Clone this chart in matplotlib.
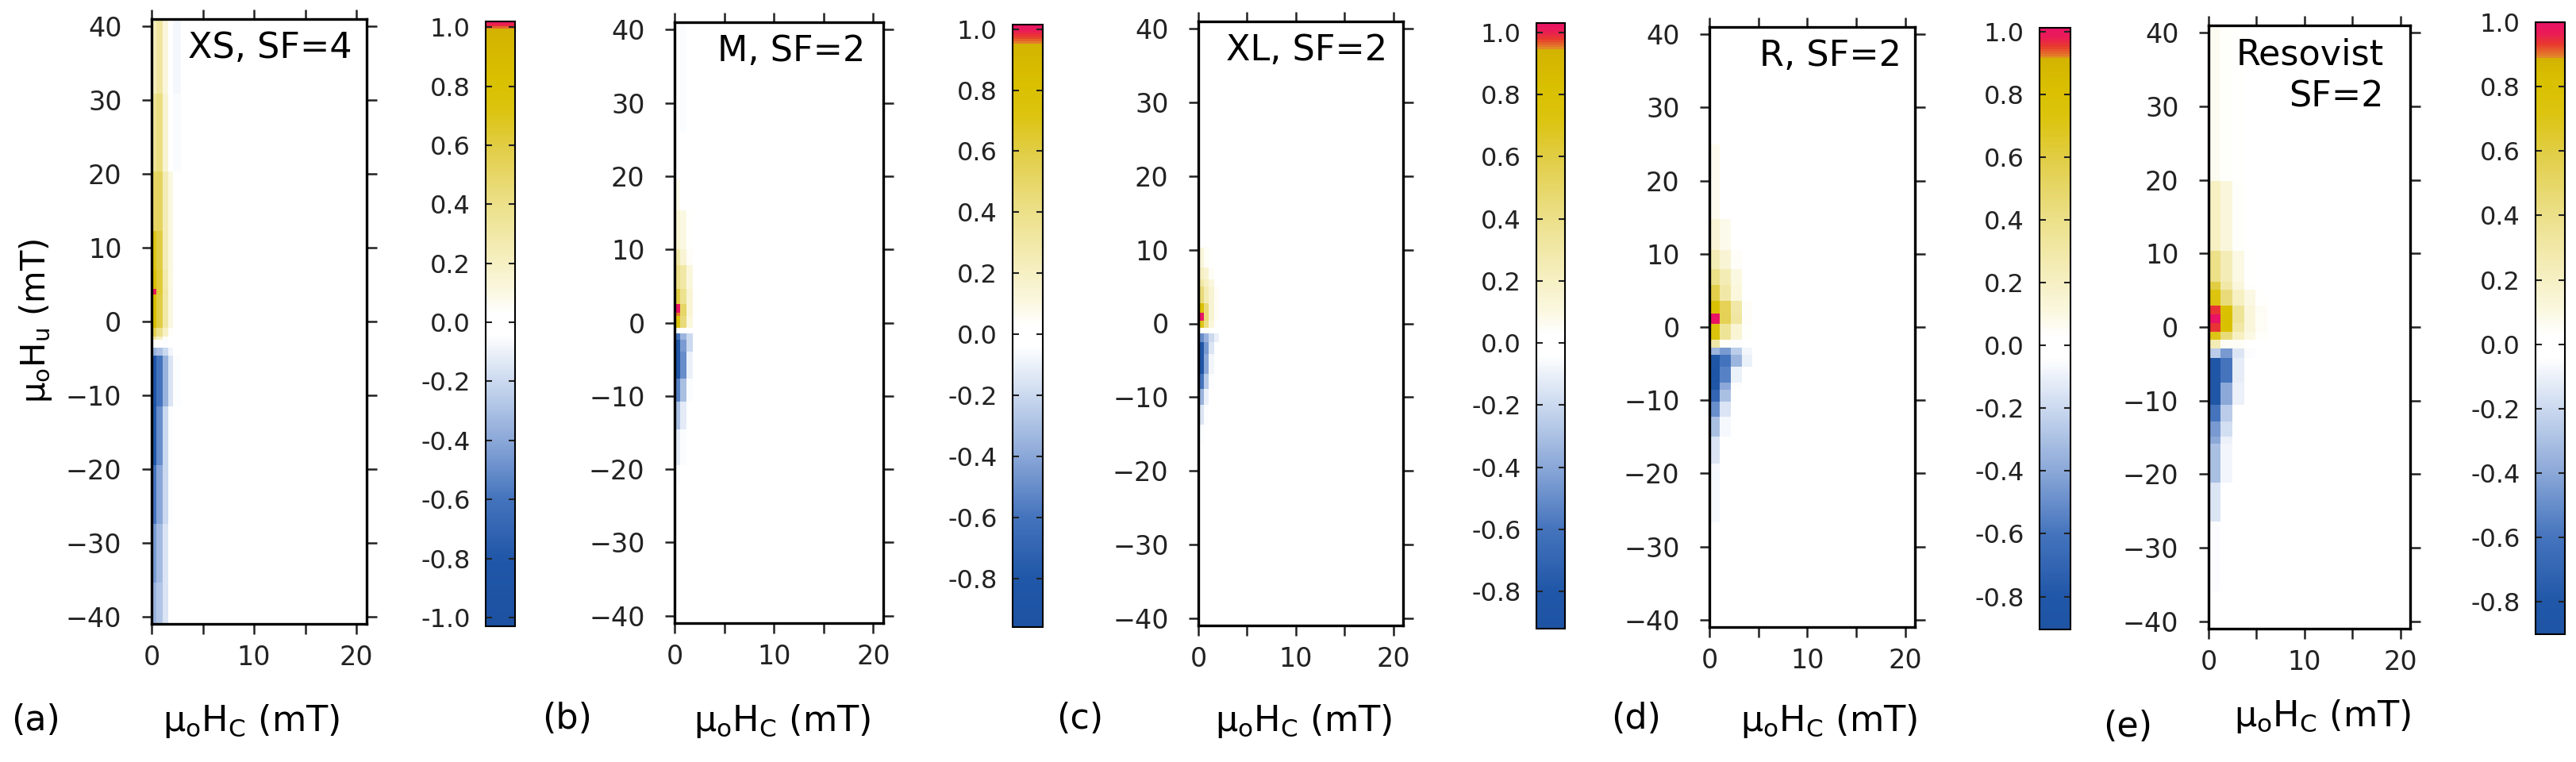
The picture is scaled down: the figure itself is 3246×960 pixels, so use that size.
import numpy as np
import matplotlib
matplotlib.use('Agg')
import matplotlib.pyplot as plt
from matplotlib.colors import ListedColormap, Normalize, to_rgb
from matplotlib.ticker import FuncFormatter

plt.rcParams['font.family'] = ['DejaVu Sans']
plt.rcParams['mathtext.default'] = 'regular'

# ---- data ----
# each panel: Hc cell edges, Hu cell edges (top -> bottom), cell values (rows top -> bottom)
names = ['XS, SF=4', 'M, SF=2', 'XL, SF=2', 'R, SF=2', 'Resovist\nSF=2']
letters = ['(a)', '(b)', '(c)', '(d)', '(e)']

hc_a = [0, 0.45, 1.1, 1.6, 2.1, 2.9, 6.0, 21.0]
hu_a = [41, 30.9, 20.3, 12.3, 7.0, 4.4, 3.7, -0.9, -2.0, -2.5, -3.6, -4.6, -11.5, -19.5, -27.4, -35.4, -41]
val_a = [
    [0.22, 0.32, 0.12, 0.0, -0.07, -0.04, -0.01],
    [0.35, 0.42, 0.15, 0.0, -0.06, -0.03, 0.0],
    [0.5, 0.52, 0.25, 0.1, 0.03, 0.0, 0.0],
    [0.7, 0.6, 0.25, 0.1, 0.03, 0.01, -0.01],
    [0.8, 0.62, 0.28, 0.1, 0.03, 0.0, -0.01],
    [1.02, 0.62, 0.3, 0.1, 0.03, 0.0, -0.01],
    [0.82, 0.6, 0.3, 0.1, 0.02, 0.0, -0.02],
    [0.55, 0.4, 0.2, 0.05, 0.0, -0.02, -0.03],
    [0.3, 0.2, 0.05, 0.0, 0.0, -0.02, -0.03],
    [0.0, 0.0, -0.05, -0.03, -0.02, -0.03, -0.03],
    [-0.35, -0.3, -0.2, -0.08, -0.03, -0.03, -0.03],
    [-0.9, -0.6, -0.35, -0.15, -0.05, -0.03, -0.03],
    [-0.82, -0.5, -0.2, -0.05, 0.02, 0.02, 0.02],
    [-0.6, -0.4, -0.2, -0.05, 0.03, 0.02, 0.0],
    [-0.45, -0.32, -0.15, -0.04, 0.03, 0.01, -0.01],
    [-0.35, -0.28, -0.15, -0.03, 0.03, 0.01, 0.0],
]

hc_b = [0, 0.55, 1.2, 1.8, 2.6, 21.0]
hu_b = [41, 26.0, 19.6, 15.3, 10.0, 7.8, 4.6, 2.5, 1.4, 0.9, -0.7, -1.5, -2.3, -3.9, -7.6, -10.8, -14.6, -19.4, -22.0, -41]
val_b = [
    [-0.02, -0.05, -0.04, -0.02, 0.0],
    [0.02, -0.04, -0.03, 0.0, 0.0],
    [0.08, 0.02, 0.0, 0.0, 0.0],
    [0.15, 0.1, 0.03, 0.0, 0.0],
    [0.3, 0.15, 0.05, 0.0, 0.0],
    [0.4, 0.3, 0.12, 0.02, 0.0],
    [0.6, 0.38, 0.15, 0.03, 0.0],
    [1.01, 0.5, 0.15, 0.03, 0.0],
    [0.96, 0.5, 0.15, 0.03, 0.0],
    [0.72, 0.45, 0.12, 0.02, 0.0],
    [0.02, 0.03, 0.0, 0.0, 0.0],
    [-0.6, -0.35, -0.2, -0.03, 0.0],
    [-0.85, -0.45, -0.2, -0.03, 0.0],
    [-0.88, -0.5, -0.1, -0.02, 0.0],
    [-0.55, -0.3, -0.05, 0.0, 0.0],
    [-0.3, -0.12, -0.02, 0.0, 0.0],
    [-0.12, -0.05, 0.0, 0.0, 0.0],
    [-0.05, -0.02, 0.0, 0.0, 0.0],
    [0.01, 0.01, 0.0, 0.0, 0.0],
]

hc_c = [0, 0.6, 1.05, 1.6, 2.1, 21.0]
hu_c = [41, 10.3, 7.6, 6.0, 5.0, 2.8, 1.5, 0.4, -0.6, -1.4, -2.5, -4.1, -6.8, -8.9, -11.0, -13.7, -16.4, -41]
val_c = [
    [0.0, 0.0, 0.0, 0.0, 0.0],
    [0.12, 0.05, 0.02, 0.0, 0.0],
    [0.2, 0.15, 0.05, 0.0, 0.0],
    [0.3, 0.2, 0.12, 0.03, 0.0],
    [0.45, 0.25, 0.15, 0.05, 0.0],
    [0.78, 0.45, 0.15, 0.05, 0.0],
    [1.03, 0.45, 0.15, 0.05, 0.0],
    [0.7, 0.4, 0.12, 0.03, 0.0],
    [0.0, 0.05, 0.0, 0.0, 0.0],
    [-0.5, -0.35, -0.2, -0.1, 0.0],
    [-0.85, -0.45, -0.15, -0.03, 0.0],
    [-0.88, -0.4, -0.08, 0.0, 0.0],
    [-0.6, -0.25, -0.05, 0.0, 0.0],
    [-0.35, -0.1, -0.02, 0.0, 0.0],
    [-0.15, -0.05, 0.0, 0.0, 0.0],
    [-0.05, -0.02, 0.0, 0.0, 0.0],
    [0.0, 0.0, 0.0, 0.0, 0.0],
]

hc_d = [0, 1.05, 2.2, 3.3, 4.4, 21.0]
hu_d = [41, 24.9, 14.8, 10.5, 7.9, 5.8, 3.6, 1.8, 0.4, -1.7, -2.8, -3.8, -5.4, -7.6, -8.6, -10.2, -12.3, -15.0, -18.7, -26.7, -41]
val_d = [
    [0.02, 0.0, 0.0, 0.0, 0.0],
    [0.07, 0.03, 0.0, 0.0, 0.0],
    [0.15, 0.08, 0.02, 0.0, 0.0],
    [0.25, 0.15, 0.05, 0.0, 0.0],
    [0.4, 0.25, 0.1, 0.02, 0.0],
    [0.58, 0.3, 0.12, 0.03, 0.0],
    [0.8, 0.55, 0.3, 0.05, 0.0],
    [1.01, 0.55, 0.32, 0.05, 0.0],
    [0.75, 0.35, 0.15, 0.04, 0.0],
    [0.3, 0.05, -0.05, 0.0, 0.0],
    [-0.35, -0.45, -0.25, -0.08, 0.0],
    [-0.85, -0.6, -0.35, -0.1, 0.0],
    [-0.88, -0.55, -0.1, -0.02, 0.0],
    [-0.85, -0.4, -0.05, 0.0, 0.0],
    [-0.7, -0.3, -0.03, 0.0, 0.0],
    [-0.5, -0.15, -0.02, 0.0, 0.0],
    [-0.3, -0.07, 0.0, 0.0, 0.0],
    [-0.15, -0.04, 0.0, 0.0, 0.0],
    [-0.07, -0.02, 0.0, 0.0, 0.0],
    [0.0, 0.0, 0.0, 0.0, 0.0],
]

hc_e = [0, 1.2, 2.5, 3.7, 4.9, 6.1, 21.0]
hu_e = [41, 19.8, 10.4, 6.2, 5.1, 2.9, 1.7, 0.5, -0.6, -1.7, -2.9, -4.2, -7.5, -10.6, -12.8, -14.9, -15.9, -21.2, -26.4, -35.9, -41]
val_e = [
    [0.06, 0.04, 0.03, 0.01, 0.0, 0.0],
    [0.2, 0.12, 0.04, 0.02, 0.0, 0.0],
    [0.4, 0.25, 0.1, 0.03, 0.01, 0.0],
    [0.6, 0.3, 0.12, 0.04, 0.02, 0.0],
    [0.72, 0.45, 0.2, 0.1, 0.03, 0.0],
    [0.94, 0.8, 0.35, 0.12, 0.05, 0.02],
    [1.0, 0.82, 0.35, 0.12, 0.05, 0.02],
    [0.94, 0.8, 0.3, 0.12, 0.05, 0.02],
    [0.7, 0.45, 0.2, 0.1, 0.04, 0.01],
    [0.25, 0.05, 0.05, 0.02, 0.0, 0.0],
    [-0.25, -0.45, -0.15, -0.05, 0.0, 0.0],
    [-0.85, -0.6, -0.12, -0.03, 0.0, 0.0],
    [-0.85, -0.4, -0.1, 0.0, 0.0, 0.0],
    [-0.6, -0.25, 0.0, 0.0, 0.0, 0.0],
    [-0.45, -0.18, 0.0, 0.0, 0.0, 0.0],
    [-0.4, -0.1, 0.0, 0.0, 0.0, 0.0],
    [-0.3, -0.08, 0.0, 0.0, 0.0, 0.0],
    [-0.15, -0.03, 0.0, 0.0, 0.0, 0.0],
    [-0.05, 0.01, 0.01, 0.0, 0.0, 0.0],
    [0.02, 0.02, 0.01, 0.0, 0.0, 0.0],
]

# colour scale ranges of each colorbar and where the orange/red top starts
vmins = [-1.03, -0.96, -0.92, -0.905, -0.9]
vmaxs = [1.02, 1.015, 1.03, 1.013, 1.0]
hot_from = [1.0, 0.955, 0.95, 0.92, 0.89]
ticks_a = [-1.0, -0.8, -0.6, -0.4, -0.2, 0.0, 0.2, 0.4, 0.6, 0.8, 1.0]
ticks_be = [-0.8, -0.6, -0.4, -0.2, 0.0, 0.2, 0.4, 0.6, 0.8, 1.0]
cb_ticks = [ticks_a, ticks_be, ticks_be, ticks_be, ticks_be]

hc_all = [hc_a, hc_b, hc_c, hc_d, hc_e]
hu_all = [hu_a, hu_b, hu_c, hu_d, hu_e]
val_all = [val_a, val_b, val_c, val_d, val_e]

W, H = 3246, 960
# pixel boxes (left, top, right, bottom)
ax_box = [(191, 24, 462, 786), (850, 28, 1113, 785), (1510, 27, 1768, 788),
          (2154, 34, 2413, 790), (2783, 32, 3037, 792)]
cb_box = [(612, 27, 649, 789), (1276, 31, 1314, 790), (1936, 29, 1972, 792),
          (2570, 35, 2609, 793), (3195, 28, 3232, 799)]
name_inset = [18, 23, 20, 17, 33]
letter_pos = [(45, 908), (715, 906), (1361, 906), (2062, 906), (2681, 916)]
xlabel_pos = [(317, 908), (986, 908), (1643, 908), (2305, 908), (2927, 902)]


def frac(box):
    l, t, r, b = box
    return [l / W, 1 - b / H, (r - l) / W, (b - t) / H]


def make_cmap(vmin, vmax, hot):
    anchors = [(-1.1, '#1b4f9f'), (-0.8, '#2157a8'), (-0.6, '#4574bd'), (-0.4, '#8ba8d8'),
               (-0.2, '#cbd9ef'), (-0.04, '#ffffff'), (0.03, '#ffffff'), (0.1, '#fbf8e2'),
               (0.2, '#f6f0c4'), (0.4, '#ece08a'), (0.6, '#e1cd45'), (0.72, '#dcc410'),
               (0.82, '#d9c000'), (hot - 0.002, '#d3b300')]
    span = vmax - hot
    anchors += [(hot + 0.05 * span, '#e2862a'), (hot + 0.4 * span, '#e83a2c'),
                (hot + 0.7 * span, '#ea1c55'), (max(vmax, hot + 0.001) + 0.01, '#e8106a')]
    xs = [a[0] for a in anchors]
    cols = np.array([to_rgb(a[1]) for a in anchors])
    v = np.linspace(vmin, vmax, 256)
    rgb = np.stack([np.interp(v, xs, cols[:, k]) for k in range(3)], axis=1)
    return ListedColormap(rgb)


def cb_fmt(v, p):
    s = f'{v:.1f}'
    return '0.0' if s == '-0.0' else s


fig = plt.figure(figsize=(W / 100, H / 100), dpi=100)

for i in range(5):
    ax = fig.add_axes(frac(ax_box[i]))
    cmap = make_cmap(vmins[i], vmaxs[i], hot_from[i])
    norm = Normalize(vmins[i], vmaxs[i])
    hu = np.array(hu_all[i])[::-1]
    vals = np.array(val_all[i])[::-1]
    mesh = ax.pcolormesh(hc_all[i], hu, vals, cmap=cmap, norm=norm, shading='flat')
    ax.set_xlim(0, 21)
    ax.set_ylim(-41, 41)
    ax.set_xticks([0, 5, 10, 15, 20])
    ax.set_xticklabels(['0', '', '10', '', '20'])
    ax.set_yticks(np.arange(-40, 41, 10))
    ax.tick_params(direction='out', length=9, width=1.8, top=True, right=True,
                   labelsize=24, colors='#222222')
    ax.tick_params(axis='x', pad=10)
    ax.tick_params(axis='y', pad=18)
    for s in ax.spines.values():
        s.set_linewidth(2.4)

    l, t, r, b = ax_box[i]
    ax.text(1 - name_inset[i] / (r - l), 1 - 15 / (b - t), names[i], transform=ax.transAxes,
            ha='right', va='top', fontsize=32, linespacing=1.3, multialignment='right')

    cax = fig.add_axes(frac(cb_box[i]))
    cb = fig.colorbar(mesh, cax=cax)
    cb.set_ticks(cb_ticks[i])
    cb.ax.yaxis.set_major_formatter(FuncFormatter(cb_fmt))
    cb.minorticks_off()
    cax.tick_params(axis='y', left=True, right=True, labelleft=True, labelright=False,
                    direction='in', length=6, width=1.5, labelsize=23, pad=14, colors='#222222')
    cb.outline.set_linewidth(1.5)

    fig.text(letter_pos[i][0] / W, 1 - letter_pos[i][1] / H, letters[i],
             fontsize=32, ha='center', va='center')
    fig.text(xlabel_pos[i][0] / W, 1 - xlabel_pos[i][1] / H, r'μ$_o$H$_C$ (mT)',
             fontsize=32, ha='center', va='center')

fig.text(45 / W, 1 - 404 / H, r'μ$_o$H$_u$ (mT)', fontsize=30, rotation=90,
         ha='center', va='center')

fig.savefig('out.png', dpi=100)
